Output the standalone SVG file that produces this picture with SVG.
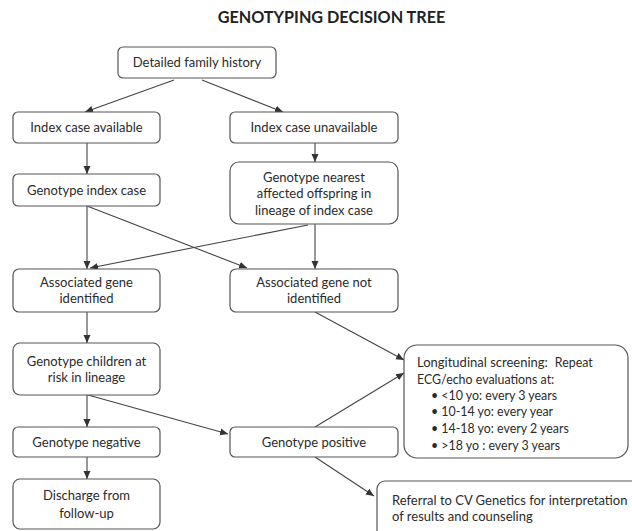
<svg xmlns="http://www.w3.org/2000/svg" width="632" height="531" viewBox="0 0 632 531">
  <style>
    .box { fill: #ffffff; stroke: #555555; stroke-width: 1.2; }
    .t { font-family: Lato, "Liberation Sans", sans-serif; font-size: 13px; fill: #2b2b2b; text-anchor: middle; }
    .tl { font-family: Lato, "Liberation Sans", sans-serif; font-size: 13px; fill: #2b2b2b; }
    .s { font-size: 12.4px; }
    .title { font-family: Lato, "Liberation Sans", sans-serif; font-size: 16.2px; font-weight: bold; fill: #222222; text-anchor: middle; }
    .edge { fill: none; stroke: #444444; stroke-width: 1.1; marker-end: url(#arrow); }
  </style>
  <defs>
    <marker id="arrow" markerUnits="userSpaceOnUse" markerWidth="9" markerHeight="8" refX="8" refY="4" orient="auto">
      <path d="M0,0.5 L8,4 L0,7.5 Z" fill="#333333"/>
    </marker>
  </defs>
  <rect width="632" height="531" fill="#ffffff"/>

  <text class="title" x="331.5" y="23">GENOTYPING DECISION TREE</text>

  <g id="connectors">
    <line class="edge" x1="174" y1="80" x2="85" y2="112"/>
    <line class="edge" x1="202" y1="80" x2="283" y2="112"/>
    <line class="edge" x1="87" y1="143" x2="87" y2="174"/>
    <line class="edge" x1="315" y1="143" x2="315" y2="162"/>
    <line class="edge" x1="87" y1="206" x2="87" y2="269"/>
    <line class="edge" x1="87" y1="206" x2="247" y2="268"/>
    <line class="edge" x1="308" y1="225" x2="90" y2="268"/>
    <line class="edge" x1="315" y1="224" x2="315" y2="269"/>
    <line class="edge" x1="315" y1="312" x2="404" y2="360"/>
    <line class="edge" x1="87" y1="312" x2="87" y2="343"/>
    <line class="edge" x1="88" y1="395" x2="228" y2="434"/>
    <line class="edge" x1="87" y1="395" x2="87" y2="427"/>
    <line class="edge" x1="87" y1="457" x2="87" y2="479"/>
    <line class="edge" x1="315" y1="427" x2="404" y2="373"/>
    <line class="edge" x1="315" y1="457" x2="374" y2="496"/>
  </g>

  <g id="family-history">
    <rect class="box" x="118" y="47" width="158" height="31" rx="5"/>
    <text class="t" x="197" y="67">Detailed family history</text>
  </g>
  <g id="index-available">
    <rect class="box" x="13" y="112" width="147" height="31" rx="5"/>
    <text class="t" x="86.5" y="132">Index case available</text>
  </g>
  <g id="index-unavailable">
    <rect class="box" x="230" y="112" width="168" height="31" rx="5"/>
    <text class="t" x="314" y="132">Index case unavailable</text>
  </g>
  <g id="genotype-index">
    <rect class="box" x="13" y="174" width="147" height="32" rx="5"/>
    <text class="t" x="86.5" y="194.5">Genotype index case</text>
  </g>
  <g id="genotype-offspring">
    <rect class="box" x="230" y="162" width="168" height="62" rx="9"/>
    <text class="t" x="314" y="181.5">Genotype nearest</text>
    <text class="t" x="314" y="198">affected offspring in</text>
    <text class="t" x="314" y="214.5">lineage of index case</text>
  </g>
  <g id="gene-identified">
    <rect class="box" x="13" y="269" width="147" height="43" rx="6"/>
    <text class="t" x="86.5" y="286.5">Associated gene</text>
    <text class="t" x="86.5" y="302.5">identified</text>
  </g>
  <g id="gene-not-identified">
    <rect class="box" x="230" y="269" width="168" height="43" rx="6"/>
    <text class="t" x="314" y="286.5">Associated gene not</text>
    <text class="t" x="314" y="302.5">identified</text>
  </g>
  <g id="genotype-children">
    <rect class="box" x="13" y="343" width="147" height="52" rx="7"/>
    <text class="t" x="86.5" y="365.5">Genotype children at</text>
    <text class="t" x="86.5" y="381.5">risk in lineage</text>
  </g>
  <g id="genotype-negative">
    <rect class="box" x="13" y="427" width="147" height="30" rx="5"/>
    <text class="t" x="86.5" y="447">Genotype negative</text>
  </g>
  <g id="genotype-positive">
    <rect class="box" x="230" y="427" width="168" height="30" rx="5"/>
    <text class="t" x="314" y="447">Genotype positive</text>
  </g>
  <g id="discharge">
    <rect class="box" x="13" y="479" width="147" height="50" rx="7"/>
    <text class="t" x="86.5" y="500">Discharge from</text>
    <text class="t" x="86.5" y="517.5">follow-up</text>
  </g>
  <g id="longitudinal-screening">
    <rect class="box" x="404" y="345" width="224" height="113" rx="13"/>
    <text class="tl" x="417" y="367">Longitudinal screening:<tspan class="s" dx="7">Repeat</tspan></text>
    <text class="tl s" x="417" y="384">ECG/echo evaluations at:</text>
    <text class="tl s" x="431" y="399.5">• &lt;10 yo: every 3 years</text>
    <text class="tl s" x="431" y="415.5">• 10-14 yo: every year</text>
    <text class="tl s" x="431" y="432.5">• 14-18 yo: every 2 years</text>
    <text class="tl s" x="431" y="449.5">• &gt;18 yo : every 3 years</text>
  </g>
  <g id="referral">
    <rect class="box" x="377" y="481" width="270" height="60" rx="8"/>
    <text class="tl" x="392" y="505">Referral to CV Genetics for interpretation</text>
    <text class="tl" x="392" y="521">of results and counseling</text>
  </g>
</svg>
